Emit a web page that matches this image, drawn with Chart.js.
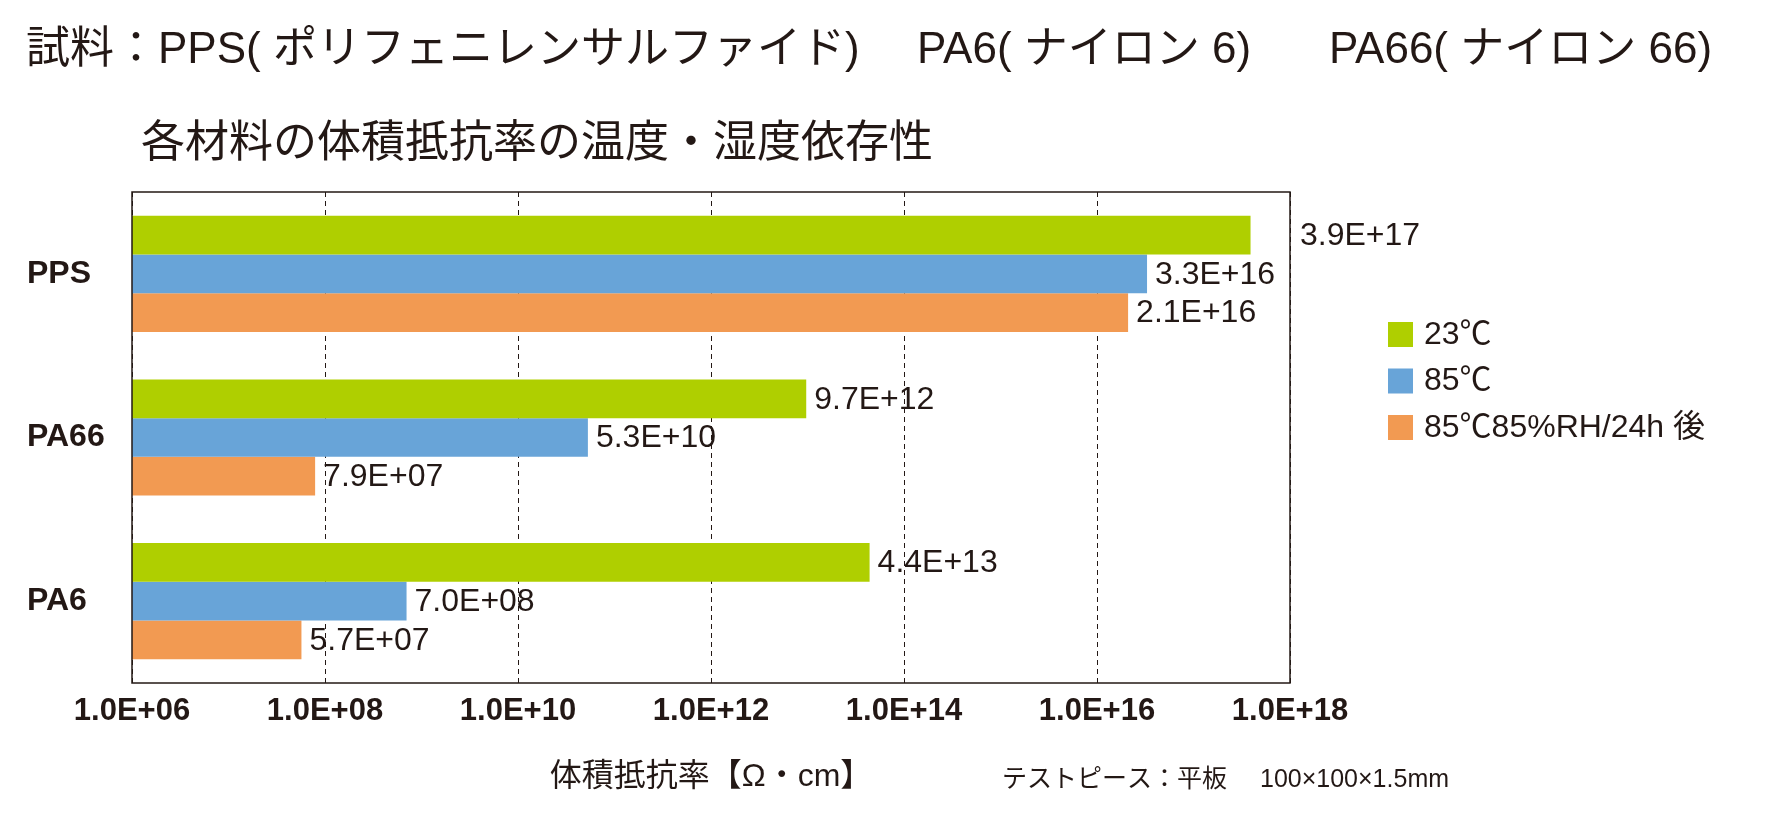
<!DOCTYPE html>
<html lang="ja">
<head>
<meta charset="utf-8">
<title>各材料の体積抵抗率の温度・湿度依存性</title>
<script src="https://cdn.jsdelivr.net/npm/chart.js@4.4.1/dist/chart.umd.min.js"></script>
<style>
  html, body { margin: 0; padding: 0; background: #fff; }
  .wrap { position: relative; width: 1771px; height: 827px; }
</style>
</head>
<body>
<div class="wrap"><canvas id="barchart"></canvas></div>
<script>
const categories = ['PPS', 'PA66', 'PA6'];
const seriesNames = ['23℃', '85℃', '85℃85%RH/24h 後'];
const values23 = [3.9e17, 9.7e12, 4.4e13];
const values85 = [3.3e16, 5.3e10, 7.0e8];
const values85rh = [2.1e16, 7.9e7, 5.7e7];
const tickValues = [1e6, 1e8, 1e10, 1e12, 1e14, 1e16, 1e18];
const tickLabels = ['1.0E+06', '1.0E+08', '1.0E+10', '1.0E+12', '1.0E+14', '1.0E+16', '1.0E+18'];

const ink = '#231815';
const latin = '"Liberation Sans", "Noto Sans CJK JP", sans-serif';

// 3.9e17 -> "3.9E+17"
function sci(v) {
  let e = Math.floor(Math.log10(v));
  let m = v / Math.pow(10, e);
  if (m >= 9.95) { m /= 10; e += 1; }
  return m.toFixed(1) + 'E+' + String(e).padStart(2, '0');
}

// value labels at the end of each bar
const valueLabels = {
  id: 'valueLabels',
  afterDatasetsDraw(chart) {
    const {ctx, chartArea} = chart;
    ctx.save();
    ctx.font = '32px ' + latin;
    ctx.fillStyle = ink;
    ctx.textAlign = 'left';
    ctx.textBaseline = 'middle';
    chart.data.datasets.forEach((ds, i) => {
      chart.getDatasetMeta(i).data.forEach((bar, j) => {
        const txt = sci(ds.data[j]);
        let x = bar.x + 8;
        if (x + ctx.measureText(txt).width > chartArea.right - 4) x = chartArea.right + 10;
        ctx.fillText(txt, x, bar.y + 1);
      });
    });
    ctx.restore();
  }
};

// frame, titles, legend, note
const decorations = {
  id: 'decorations',
  afterDraw(chart) {
    const {ctx, chartArea} = chart;
    ctx.save();
    ctx.strokeStyle = ink;
    ctx.lineWidth = 1.5;
    ctx.strokeRect(chartArea.left, chartArea.top, chartArea.right - chartArea.left, chartArea.bottom - chartArea.top);

    ctx.fillStyle = ink;
    ctx.textBaseline = 'middle';
    ctx.textAlign = 'left';
    ctx.font = '44px ' + latin;
    ctx.fillText('試料：PPS( ポリフェニレンサルファイド)', 26, 51);
    ctx.fillText('PA6( ナイロン 6)', 917, 51);
    ctx.fillText('PA66( ナイロン 66)', 1329, 51);
    ctx.fillText('各材料の体積抵抗率の温度・湿度依存性', 141, 145);

    ctx.font = '25px ' + latin;
    ctx.fillText('テストピース：平板', 1002, 780);
    ctx.fillText('100×100×1.5mm', 1260, 780);

    ctx.font = '32px ' + latin;
    chart.data.datasets.forEach((ds, i) => {
      const y = 322 + i * 46.5;
      ctx.fillStyle = ds.backgroundColor;
      ctx.fillRect(1388, y, 25, 25);
      ctx.fillStyle = ink;
      ctx.fillText(ds.label, 1424, y + 13);
    });
    ctx.restore();
  }
};

const ctx = document.getElementById('barchart').getContext('2d');
const barchart = new Chart(ctx, {
  type: 'bar',
  data: {
    labels: categories,
    datasets: [
      { label: seriesNames[0], data: values23, backgroundColor: '#AFCF00' },
      { label: seriesNames[1], data: values85, backgroundColor: '#68A4D8' },
      { label: seriesNames[2], data: values85rh, backgroundColor: '#F29A52' }
    ]
  },
  options: {
    indexAxis: 'y',
    responsive: true,
    maintainAspectRatio: false,
    animation: false,
    layout: { padding: { left: 27, top: 192, right: 481, bottom: 14 } },
    datasets: { bar: { categoryPercentage: 0.71, barPercentage: 1.0, borderWidth: 0 } },
    plugins: {
      legend: { display: false },
      tooltip: { enabled: false }
    },
    scales: {
      x: {
        type: 'logarithmic',
        min: 1e6,
        max: 1e18,
        afterBuildTicks: (scale) => { scale.ticks = tickValues.map(v => ({ value: v })); },
        afterFit: (scale) => { scale.height = 130; },
        ticks: {
          padding: 10,
          color: ink,
          font: { family: latin, size: 31, weight: 'bold' },
          callback: (value, index) => tickLabels[index]
        },
        grid: { color: ink, lineWidth: 1, drawTicks: false },
        border: { display: false, dash: [5, 4] },
        title: {
          display: true,
          text: '体積抵抗率【Ω・cm】',
          color: ink,
          font: { family: latin, size: 32 },
          padding: { top: 0, bottom: 17 }
        }
      },
      y: {
        afterFit: (scale) => { scale.width = 105; },
        ticks: {
          crossAlign: 'far',
          color: ink,
          font: { family: latin, size: 32, weight: 'bold' }
        },
        grid: { display: false },
        border: { display: false }
      }
    }
  },
  plugins: [valueLabels, decorations]
});
</script>
</body>
</html>
